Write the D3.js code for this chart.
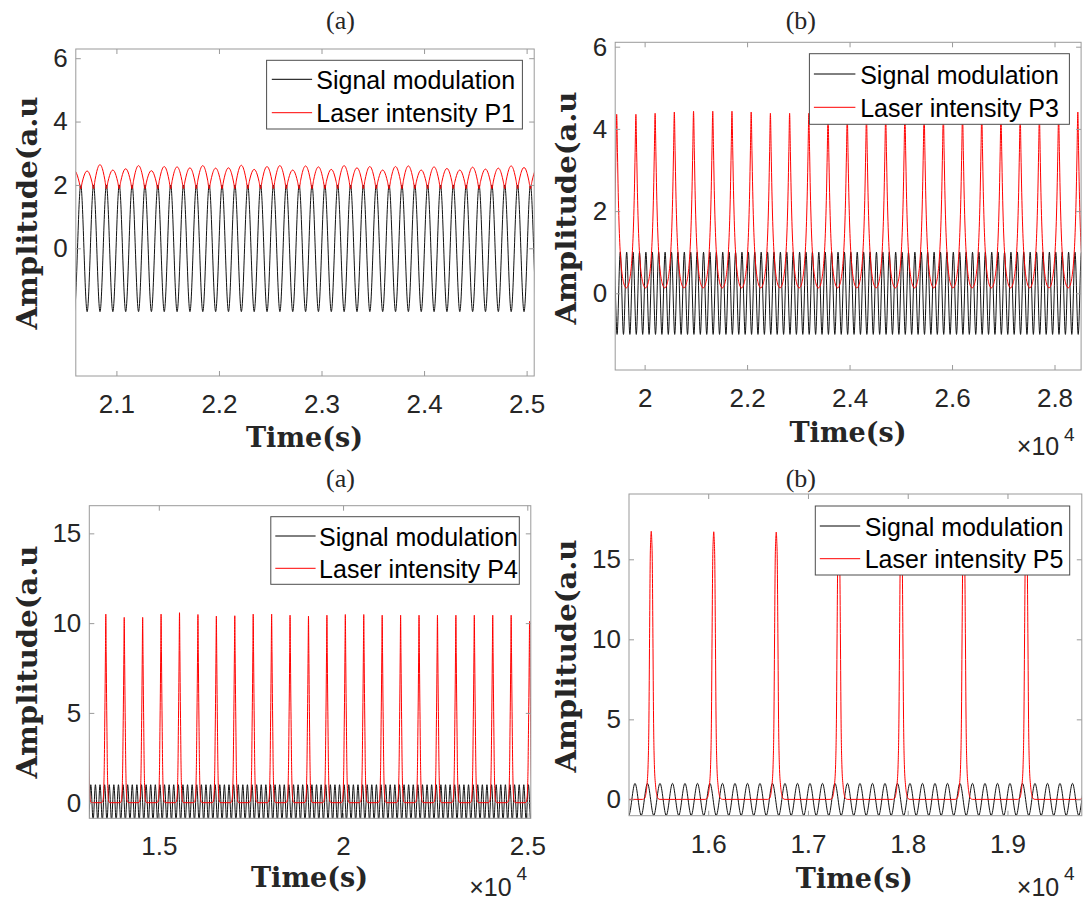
<!DOCTYPE html>
<html>
<head>
<meta charset="utf-8">
<script src="https://cdn.jsdelivr.net/npm/d3@7"></script>
<style>
  body { margin: 0; background: #fff; }
  svg { display: block; }
</style>
</head>
<body>
<svg id="chart" width="1087" height="900"></svg>
<script>
// ---------------- DATA ----------------
// Shared legend labels
const signalLabel = "Signal modulation";
const laserLabels = ["Laser intensity P1", "Laser intensity P3", "Laser intensity P4", "Laser intensity P5"];
const panelTitles = ["(a)", "(b)", "(a)", "(b)"];
const xAxisTitle = "Time(s)";
const yAxisTitle = "Amplitude(a.u";

// Panel 1 (top-left)
const p1XDomain = [2.0604, 2.5074];
const p1YDomain = [-4.03, 6.29];
const p1XTicks = [2.1, 2.2, 2.3, 2.4, 2.5];
const p1XTickLabels = ["2.1", "2.2", "2.3", "2.4", "2.5"];
const p1YTicks = [0, 2, 4, 6];
const p1YTickLabels = ["0", "2", "4", "6"];
const p1SignalAmp = 2;
const p1SignalPeriod = 0.01253;
const p1SignalPeak = 2.0652;
const p1LaserStart = 2.0589;
const p1LaserPeriod = 0.01253;
const p1LaserBase = 1.88;
const p1LaserPeaks = [2.45, 2.44, 2.64, 2.47, 2.51, 2.61, 2.45, 2.58, 2.57, 2.54, 2.61, 2.53,
  2.54, 2.62, 2.49, 2.58, 2.61, 2.47, 2.60, 2.57, 2.49, 2.61, 2.54,
  2.58, 2.47, 2.58, 2.60, 2.47, 2.57, 2.52, 2.47, 2.56, 2.50, 2.53, 2.60, 2.55, 2.50];
const p1LaserProfile = [[0, 1], [0.12, 0.93], [0.25, 0.71], [0.38, 0.37], [0.5, 0]];

// Panel 2 (top-right), x in units of 10^4
const p2XDomain = [1.9426, 2.8519];
const p2YDomain = [-1.866, 6.107];
const p2XTicks = [2, 2.2, 2.4, 2.6, 2.8];
const p2XTickLabels = ["2", "2.2", "2.4", "2.6", "2.8"];
const p2YTicks = [0, 2, 4, 6];
const p2YTickLabels = ["0", "2", "4", "6"];
const p2SignalAmp = 1;
const p2SignalPeriod = 0.0125;
const p2SignalPeak = 1.965;
const p2LaserStart = 1.908;
const p2LaserPeriod = 0.0375;
const p2LaserBase = 0.13;
const p2LaserPeaks = [4.36, 4.355, 4.355, 4.38, 4.41, 4.43, 4.43, 4.43, 4.41, 4.38, 4.38, 4.38,
  4.36, 4.35, 4.36, 4.38, 4.41, 4.43, 4.43, 4.42, 4.40, 4.38, 4.36, 4.36, 4.38, 4.41, 4.42];
const p2LaserProfile = [[0, 1], [0.04, 0.78], [0.08, 0.55], [0.12, 0.38], [0.16, 0.26], [0.2, 0.18],
  [0.25, 0.11], [0.3, 0.065], [0.36, 0.03], [0.43, 0.008], [0.5, 0]];

// Panel 3 (bottom-left), x in units of 10^4
const p3XDomain = [1.3114, 2.5095];
const p3YDomain = [-0.87, 16.54];
const p3XTicks = [1.5, 2, 2.5];
const p3XTickLabels = ["1.5", "2", "2.5"];
const p3YTicks = [0, 5, 10, 15];
const p3YTickLabels = ["0", "5", "10", "15"];
const p3SignalAmp = 1;
const p3SignalPeriod = 0.0125;
const p3SignalPeak = 1.3530;
const p3LaserStart = 1.3062;
const p3LaserPeriod = 0.05;
const p3LaserBase = 0;
const p3LaserPeaks = [10.4, 10.5, 10.32, 10.32, 10.5, 10.58, 10.48, 10.39, 10.41, 10.5, 10.5, 10.44,
  10.39, 10.44, 10.48, 10.48, 10.44, 10.44, 10.44, 10.44, 10.44, 10.44, 10.44, 10.44, 10.1, 10.4];
const p3LaserProfile = [[0, 1], [0.02, 0.8], [0.04, 0.58], [0.06, 0.4], [0.08, 0.22], [0.1, 0.11],
  [0.12, 0.05], [0.15, 0.015], [0.19, 0.002], [0.25, 0], [0.5, 0]];

// Panel 4 (bottom-right), x in units of 10^4
const p4XDomain = [1.5206, 1.9745];
const p4YDomain = [-1.02, 19.08];
const p4XTicks = [1.6, 1.7, 1.8, 1.9];
const p4XTickLabels = ["1.6", "1.7", "1.8", "1.9"];
const p4YTicks = [0, 5, 10, 15];
const p4YTickLabels = ["0", "5", "10", "15"];
const p4SignalAmp = 1;
const p4SignalPeriod = 0.01253;
const p4SignalPeak = 1.5266;
const p4LaserStart = 1.48025;
const p4LaserPeriod = 0.06265;
const p4LaserBase = 0;
const p4LaserPeaks = [16.7, 16.75, 16.72, 16.7, 16.7, 16.7, 16.7, 16.7, 16.7];
const p4LaserProfile = [[0, 1], [0.008, 0.97], [0.016, 0.9], [0.027, 0.6], [0.037, 0.3], [0.05, 0.13],
  [0.07, 0.05], [0.09, 0.015], [0.11, 0.003], [0.14, 0], [0.5, 0]];

// ---------------- helpers ----------------
function extremaPoints(amp, period, peak, domain) {
  const half = period / 2;
  const k0 = Math.floor((domain[0] - peak) / half) - 1;
  const k1 = Math.ceil((domain[1] - peak) / half) + 1;
  const pts = [];
  for (let k = k0; k <= k1; k++) pts.push([peak + k * half, Math.abs(k) % 2 === 0 ? amp : -amp]);
  return pts;
}
function pulsePoints(start, period, peaks, base, profile) {
  const pts = [];
  const asc = profile.filter(p => p[0] > 0).sort((a, b) => a[0] - b[0]);
  peaks.forEach((h, i) => {
    const tp = start + i * period;
    asc.slice().reverse().forEach(p => {
      if (p[0] < 0.5 || i === 0) pts.push([tp - p[0] * period, base + p[1] * (h - base)]);
    });
    pts.push([tp, h]);
    asc.forEach(p => pts.push([tp + p[0] * period, base + p[1] * (h - base)]));
  });
  return pts;
}

// ---------------- layout ----------------
const panels = [
  { id: "p1", box: { l: 75.8, r: 534.2, t: 49, b: 376 }, xDomain: p1XDomain, yDomain: p1YDomain,
    xTicks: p1XTicks, xLabels: p1XTickLabels, yTicks: p1YTicks, yLabels: p1YTickLabels,
    signal: extremaPoints(p1SignalAmp, p1SignalPeriod, p1SignalPeak, p1XDomain),
    laser: pulsePoints(p1LaserStart, p1LaserPeriod, p1LaserPeaks, p1LaserBase, p1LaserProfile),
    title: { x: 340.5, y: 28.5 }, xlab: { x: 304.5, y: 446.5 }, ylab: { x: 36.5, y: 213 },
    legend: { l: 266.6, r: 522.4, t: 60.3, b: 129, rows: [79.3, 112.7], l0: 271.8, l1: 312.1, tx: 316.3 },
    exp: null },
  { id: "p2", box: { l: 615.2, r: 1081.1, t: 42.3, b: 370 }, xDomain: p2XDomain, yDomain: p2YDomain,
    xTicks: p2XTicks, xLabels: p2XTickLabels, yTicks: p2YTicks, yLabels: p2YTickLabels,
    signal: extremaPoints(p2SignalAmp, p2SignalPeriod, p2SignalPeak, p2XDomain),
    laser: pulsePoints(p2LaserStart, p2LaserPeriod, p2LaserPeaks, p2LaserBase, p2LaserProfile),
    title: { x: 800.8, y: 28.5 }, xlab: { x: 848, y: 441.7 }, ylab: { x: 576, y: 208 },
    legend: { l: 809.4, r: 1069.4, t: 53.7, b: 124.3, rows: [74, 107.3], l0: 813.9, l1: 855.4, tx: 860.2 },
    exp: { x: 1016.8, y: 455, ex: 1064, ey: 441 } },
  { id: "p3", box: { l: 89.3, r: 530.8, t: 505.7, b: 818.3 }, xDomain: p3XDomain, yDomain: p3YDomain,
    xTicks: p3XTicks, xLabels: p3XTickLabels, yTicks: p3YTicks, yLabels: p3YTickLabels,
    signal: extremaPoints(p3SignalAmp, p3SignalPeriod, p3SignalPeak, p3XDomain),
    laser: pulsePoints(p3LaserStart, p3LaserPeriod, p3LaserPeaks, p3LaserBase, p3LaserProfile),
    title: { x: 340.5, y: 486.5 }, xlab: { x: 309.5, y: 886.7 }, ylab: { x: 36.5, y: 662 },
    legend: { l: 270.8, r: 519.3, t: 516.7, b: 584.3, rows: [536, 568.3], l0: 275.3, l1: 315.6, tx: 319.1 },
    exp: { x: 469.2, y: 896, ex: 516.5, ey: 880 } },
  { id: "p4", box: { l: 629, r: 1081.8, t: 494, b: 815.7 }, xDomain: p4XDomain, yDomain: p4YDomain,
    xTicks: p4XTicks, xLabels: p4XTickLabels, yTicks: p4YTicks, yLabels: p4YTickLabels,
    signal: extremaPoints(p4SignalAmp, p4SignalPeriod, p4SignalPeak, p4XDomain),
    laser: pulsePoints(p4LaserStart, p4LaserPeriod, p4LaserPeaks, p4LaserBase, p4LaserProfile),
    title: { x: 800.8, y: 486.5 }, xlab: { x: 854.3, y: 888.3 }, ylab: { x: 576, y: 656 },
    legend: { l: 815.3, r: 1069.7, t: 506, b: 575, rows: [526, 558.7], l0: 819.8, l1: 860.2, tx: 864.7 },
    exp: { x: 1016.8, y: 896, ex: 1064, ey: 880 } }
];

const SANS = "'Liberation Sans', Arial, Helvetica, sans-serif";
const SERIF = "'Liberation Serif', 'Times New Roman', serif";
const BOLDSERIF = "'DejaVu Serif', serif";
const AXIS_COLOR = "#9a9a9a";
const TEXT_COLOR = "#262626";

const svg = d3.select("#chart");
svg.append("rect").attr("width", 1087).attr("height", 900).attr("fill", "#fff");
const defs = svg.append("defs");

panels.forEach((c, idx) => {
  const b = c.box;
  const x = d3.scaleLinear().domain(c.xDomain).range([b.l, b.r]);
  const y = d3.scaleLinear().domain(c.yDomain).range([b.b, b.t]);
  const g = svg.append("g").attr("class", "panel " + c.id);

  defs.append("clipPath").attr("id", "clip-" + c.id)
    .append("rect").attr("x", b.l).attr("y", b.t).attr("width", b.r - b.l).attr("height", b.b - b.t);

  const line = d3.line().x(d => x(d[0])).y(d => y(d[1])).curve(d3.curveMonotoneX);
  const plot = g.append("g").attr("clip-path", "url(#clip-" + c.id + ")");
  plot.append("path").attr("d", line(c.signal)).attr("fill", "none")
    .attr("stroke", "#111").attr("stroke-width", 1);
  plot.append("path").attr("d", line(c.laser)).attr("fill", "none")
    .attr("stroke", "#ff0000").attr("stroke-width", 1);

  // axes (ticks inside, mirrored on top/right)
  const TL = 5;
  const styleAxis = sel => {
    sel.select(".domain").remove();
    sel.selectAll(".tick line").attr("stroke", AXIS_COLOR);
    sel.selectAll(".tick text").attr("fill", TEXT_COLOR)
      .style("font-family", SANS).style("font-size", "26px");
  };
  g.append("g").attr("transform", `translate(0,${b.b})`)
    .call(d3.axisBottom(x).tickValues(c.xTicks).tickFormat((d, i) => c.xLabels[i])
      .tickSizeInner(-TL).tickSizeOuter(0).tickPadding(18.5))
    .call(styleAxis);
  g.append("g").attr("transform", `translate(0,${b.t})`)
    .call(d3.axisTop(x).tickValues(c.xTicks).tickFormat("").tickSizeInner(-TL).tickSizeOuter(0))
    .call(styleAxis);
  g.append("g").attr("transform", `translate(${b.l},0)`)
    .call(d3.axisLeft(y).tickValues(c.yTicks).tickFormat((d, i) => c.yLabels[i])
      .tickSizeInner(-TL).tickSizeOuter(0).tickPadding(8))
    .call(styleAxis);
  g.append("g").attr("transform", `translate(${b.r},0)`)
    .call(d3.axisRight(y).tickValues(c.yTicks).tickFormat("").tickSizeInner(-TL).tickSizeOuter(0))
    .call(styleAxis);

  g.append("rect").attr("x", b.l).attr("y", b.t).attr("width", b.r - b.l).attr("height", b.b - b.t)
    .attr("fill", "none").attr("stroke", AXIS_COLOR).attr("stroke-width", 1);

  // title
  g.append("text").attr("x", c.title.x).attr("y", c.title.y).attr("text-anchor", "middle")
    .style("font-family", SERIF).style("font-size", "26px").attr("fill", TEXT_COLOR)
    .text(panelTitles[idx]);

  // axis titles
  g.append("text").attr("x", c.xlab.x).attr("y", c.xlab.y).attr("text-anchor", "middle")
    .style("font-family", BOLDSERIF).style("font-weight", "bold").style("font-size", "27px")
    .attr("fill", TEXT_COLOR).attr("textLength", 117).attr("lengthAdjust", "spacingAndGlyphs")
    .text(xAxisTitle);
  g.append("text").attr("transform", `translate(${c.ylab.x},${c.ylab.y}) rotate(-90)`)
    .attr("text-anchor", "middle")
    .style("font-family", BOLDSERIF).style("font-weight", "bold").style("font-size", "28px")
    .attr("fill", TEXT_COLOR).attr("textLength", 233).attr("lengthAdjust", "spacingAndGlyphs")
    .text(yAxisTitle);

  // exponent
  if (c.exp) {
    g.append("text").attr("x", c.exp.x).attr("y", c.exp.y)
      .style("font-family", SANS).style("font-size", "25px").attr("fill", TEXT_COLOR).text("\u00d710");
    g.append("text").attr("x", c.exp.ex).attr("y", c.exp.ey)
      .style("font-family", SANS).style("font-size", "19px").attr("fill", TEXT_COLOR).text("4");
  }

  // legend
  const L = c.legend;
  const lg = g.append("g");
  lg.append("rect").attr("x", L.l).attr("y", L.t).attr("width", L.r - L.l).attr("height", L.b - L.t)
    .attr("fill", "#fff").attr("stroke", "#4d4d4d").attr("stroke-width", 1);
  const items = [{ label: signalLabel, color: "#000" }, { label: laserLabels[idx], color: "#ff0000" }];
  items.forEach((it, j) => {
    lg.append("line").attr("x1", L.l0).attr("x2", L.l1).attr("y1", L.rows[j]).attr("y2", L.rows[j])
      .attr("stroke", it.color).attr("stroke-width", 1);
    lg.append("text").attr("x", L.tx).attr("y", L.rows[j] + 9.5)
      .style("font-family", SANS).style("font-size", "25px").attr("fill", "#000").text(it.label);
  });
});
</script>
</body>
</html>
